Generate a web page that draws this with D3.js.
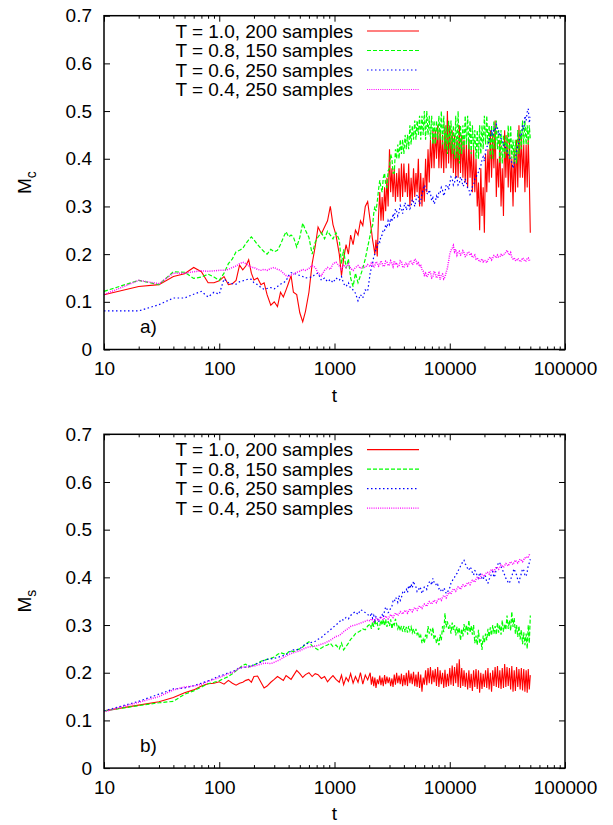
<!DOCTYPE html>
<html>
<head>
<meta charset="utf-8">
<script src="https://cdn.jsdelivr.net/npm/d3@7"></script>
<style>
  body { margin: 0; background: #fff; }
  text { font-family: "Liberation Sans", Arial, sans-serif; }
</style>
</head>
<body>
<svg id="drawing_region"></svg>
<script>
// time steps shared by all curves (denser where the runs get noisy)
var tSteps = [
  10,20,30,40,50,60,70,80,90,100,
  110,120,130,140,150,160,170,180,190,200,
  215,230,245,260,280,300,320,340,360,380,
  400,420,440,470,500,530,560,600,640,680,
  720,770,820,870,920,970,1030,1100,1150,1200,
  1260,1320,1380,1450,1520,1600,1680,1760,1850,1940,
  2040,2090,2140,2190,2240,2290,2350,2410,2470,2530,
  2590,2650,2720,2780,2850,2920,3000,3070,3150,3220,
  3300,3380,3460,3540,3630,3720,3810,3900,4000,4100,
  4200,4300,4400,4510,4620,4730,4850,4970,5090,5210,
  5340,5470,5600,5740,5880,6020,6170,6320,6480,6640,
  6800,6970,7140,7310,7490,7670,7860,8050,8250,8450,
  8660,8870,9090,9310,9540,9770,10000,10250,10500,10750,
  11000,11270,11550,11820,12100,12400,12700,13000,13300,13620,
  13950,14300,14650,15000,15350,15720,16100,16500,16900,17320,
  17750,18170,18600,19050,19500,19970,20450,20950,21450,21970,
  22500,23050,23600,24170,24750,25350,25950,26570,27200,27870,
  28550,29250,29950,30670,31400,32170,32950,33750,34550,35400,
  36250,37120,38000,38920,39850,40820,41800,42820,43850,44900,
  46000,47000,48000,49000,50000
];

// panel a) : M_c
var mcT10 = [
  0.115,0.132,0.136,0.153,0.159,0.172,0.163,0.140,0.140,0.144,
  0.153,0.136,0.138,0.145,0.177,0.167,0.175,0.188,0.160,0.146,
  0.150,0.136,0.140,0.115,0.093,0.100,0.090,0.120,0.110,0.125,
  0.140,0.155,0.120,0.115,0.077,0.058,0.080,0.120,0.180,0.216,
  0.257,0.243,0.257,0.270,0.300,0.262,0.240,0.200,0.155,0.190,
  0.220,0.200,0.240,0.220,0.250,0.240,0.270,0.260,0.300,0.310,
  0.270,0.250,0.230,0.215,0.200,0.230,0.195,0.280,0.330,0.270,
  0.320,0.270,0.340,0.290,0.360,0.300,0.420,0.330,0.380,0.320,
  0.380,0.310,0.370,0.320,0.380,0.310,0.390,0.320,0.390,0.330,
  0.370,0.320,0.390,0.300,0.360,0.310,0.380,0.320,0.370,0.330,
  0.400,0.300,0.370,0.300,0.360,0.310,0.400,0.330,0.420,0.350,
  0.440,0.380,0.460,0.380,0.460,0.400,0.470,0.380,0.460,0.380,
  0.450,0.370,0.470,0.380,0.500,0.390,0.470,0.380,0.460,0.370,
  0.450,0.360,0.440,0.360,0.470,0.370,0.450,0.360,0.440,0.350,
  0.430,0.340,0.440,0.360,0.420,0.330,0.420,0.330,0.400,0.300,
  0.350,0.250,0.380,0.280,0.340,0.245,0.410,0.330,0.420,0.350,
  0.460,0.360,0.450,0.380,0.480,0.320,0.400,0.340,0.440,0.300,
  0.380,0.280,0.460,0.360,0.450,0.340,0.440,0.330,0.400,0.300,
  0.420,0.330,0.440,0.340,0.470,0.360,0.450,0.360,0.430,0.330,
  0.430,0.340,0.440,0.360,0.245
];
var mcT08 = [
  0.122,0.145,0.136,0.163,0.162,0.149,0.152,0.158,0.152,0.145,
  0.160,0.180,0.190,0.205,0.208,0.212,0.222,0.230,0.236,0.230,
  0.220,0.212,0.205,0.200,0.210,0.205,0.208,0.220,0.235,0.247,
  0.236,0.240,0.236,0.215,0.235,0.265,0.250,0.235,0.200,0.225,
  0.236,0.245,0.232,0.248,0.240,0.232,0.245,0.230,0.180,0.210,
  0.170,0.190,0.150,0.132,0.160,0.140,0.155,0.170,0.190,0.215,
  0.240,0.255,0.260,0.285,0.300,0.290,0.310,0.335,0.355,0.340,
  0.330,0.360,0.370,0.345,0.340,0.375,0.380,0.410,0.400,0.370,
  0.370,0.420,0.400,0.430,0.400,0.440,0.410,0.440,0.410,0.450,
  0.420,0.450,0.420,0.470,0.430,0.470,0.440,0.480,0.440,0.480,
  0.450,0.490,0.440,0.490,0.450,0.500,0.440,0.500,0.450,0.490,
  0.440,0.490,0.430,0.480,0.430,0.480,0.440,0.490,0.440,0.500,
  0.430,0.490,0.420,0.470,0.410,0.480,0.420,0.480,0.410,0.470,
  0.400,0.490,0.400,0.500,0.390,0.470,0.410,0.470,0.420,0.490,
  0.430,0.490,0.420,0.480,0.410,0.470,0.420,0.460,0.400,0.460,
  0.400,0.470,0.410,0.470,0.420,0.490,0.430,0.490,0.430,0.470,
  0.400,0.470,0.400,0.480,0.420,0.480,0.420,0.460,0.390,0.460,
  0.390,0.450,0.400,0.450,0.410,0.470,0.400,0.470,0.400,0.440,
  0.390,0.440,0.390,0.460,0.410,0.460,0.420,0.480,0.430,0.480,
  0.430,0.470,0.430,0.470,0.440
];
var mcT06 = [
  0.081,0.081,0.094,0.108,0.108,0.116,0.122,0.110,0.120,0.116,
  0.148,0.140,0.138,0.137,0.142,0.144,0.146,0.148,0.147,0.140,
  0.136,0.130,0.126,0.128,0.130,0.127,0.132,0.137,0.140,0.144,
  0.155,0.161,0.160,0.158,0.155,0.153,0.150,0.151,0.152,0.158,
  0.160,0.145,0.150,0.142,0.147,0.140,0.150,0.145,0.153,0.138,
  0.132,0.140,0.128,0.125,0.118,0.102,0.115,0.108,0.125,0.122,
  0.160,0.172,0.180,0.195,0.200,0.212,0.215,0.228,0.225,0.238,
  0.240,0.252,0.250,0.262,0.255,0.270,0.262,0.275,0.268,0.285,
  0.275,0.295,0.290,0.280,0.288,0.302,0.296,0.285,0.299,0.308,
  0.292,0.300,0.306,0.295,0.300,0.315,0.310,0.300,0.313,0.325,
  0.320,0.305,0.310,0.328,0.334,0.345,0.340,0.328,0.325,0.335,
  0.327,0.312,0.318,0.305,0.310,0.322,0.316,0.330,0.328,0.340,
  0.334,0.322,0.330,0.345,0.345,0.335,0.348,0.362,0.358,0.345,
  0.350,0.365,0.360,0.345,0.348,0.362,0.356,0.342,0.345,0.358,
  0.350,0.338,0.336,0.325,0.330,0.342,0.345,0.358,0.360,0.368,
  0.372,0.380,0.385,0.398,0.404,0.395,0.415,0.425,0.428,0.440,
  0.445,0.460,0.448,0.468,0.458,0.472,0.465,0.450,0.455,0.442,
  0.440,0.428,0.430,0.420,0.418,0.408,0.405,0.398,0.392,0.380,
  0.390,0.402,0.415,0.428,0.435,0.450,0.448,0.470,0.462,0.490,
  0.480,0.498,0.505,0.475,0.488
];
var mcT04 = [
  0.115,0.145,0.138,0.160,0.160,0.163,0.165,0.164,0.165,0.166,
  0.166,0.168,0.172,0.175,0.180,0.183,0.180,0.176,0.172,0.172,
  0.168,0.166,0.168,0.166,0.170,0.172,0.168,0.166,0.160,0.155,
  0.152,0.156,0.158,0.162,0.164,0.168,0.166,0.170,0.176,0.172,
  0.160,0.155,0.166,0.172,0.168,0.180,0.183,0.175,0.168,0.178,
  0.172,0.180,0.170,0.166,0.172,0.176,0.170,0.174,0.172,0.178,
  0.174,0.182,0.180,0.172,0.176,0.184,0.182,0.175,0.178,0.186,
  0.181,0.174,0.176,0.185,0.183,0.176,0.178,0.186,0.180,0.174,
  0.186,0.178,0.182,0.174,0.176,0.186,0.184,0.174,0.172,0.180,
  0.182,0.175,0.178,0.186,0.185,0.178,0.180,0.190,0.188,0.180,
  0.182,0.174,0.178,0.168,0.165,0.156,0.160,0.152,0.156,0.164,
  0.162,0.150,0.152,0.164,0.160,0.150,0.154,0.160,0.146,0.156,
  0.158,0.148,0.152,0.162,0.170,0.185,0.200,0.208,0.212,0.218,
  0.205,0.210,0.198,0.204,0.206,0.198,0.200,0.207,0.203,0.195,
  0.196,0.204,0.204,0.198,0.200,0.193,0.195,0.198,0.190,0.192,
  0.188,0.184,0.186,0.190,0.184,0.187,0.186,0.182,0.188,0.192,
  0.194,0.188,0.192,0.197,0.196,0.192,0.198,0.194,0.194,0.199,
  0.196,0.200,0.200,0.204,0.208,0.202,0.198,0.203,0.194,0.190,
  0.192,0.187,0.186,0.191,0.188,0.184,0.186,0.192,0.190,0.185,
  0.186,0.191,0.192,0.186,0.188
];

// panel b) : M_s
var msT10 = [
  0.120,0.132,0.139,0.148,0.158,0.164,0.172,0.177,0.178,0.181,
  0.176,0.184,0.178,0.174,0.178,0.180,0.184,0.186,0.180,0.192,
  0.193,0.180,0.168,0.172,0.180,0.186,0.192,0.188,0.184,0.194,
  0.190,0.186,0.194,0.205,0.198,0.190,0.196,0.200,0.192,0.198,
  0.196,0.188,0.192,0.181,0.188,0.194,0.186,0.180,0.195,0.175,
  0.190,0.182,0.198,0.178,0.192,0.180,0.200,0.176,0.195,0.185,
  0.200,0.175,0.192,0.172,0.190,0.168,0.186,0.176,0.194,0.174,
  0.190,0.172,0.195,0.176,0.192,0.178,0.190,0.172,0.188,0.170,
  0.196,0.175,0.200,0.178,0.194,0.176,0.198,0.172,0.195,0.174,
  0.200,0.172,0.205,0.178,0.198,0.176,0.202,0.172,0.196,0.170,
  0.202,0.168,0.196,0.160,0.190,0.175,0.205,0.174,0.210,0.178,
  0.212,0.176,0.205,0.180,0.208,0.172,0.212,0.170,0.205,0.176,
  0.200,0.168,0.206,0.170,0.198,0.172,0.210,0.175,0.215,0.172,
  0.212,0.178,0.220,0.170,0.228,0.168,0.210,0.172,0.205,0.170,
  0.200,0.165,0.205,0.168,0.198,0.162,0.205,0.170,0.208,0.166,
  0.205,0.158,0.200,0.166,0.198,0.170,0.205,0.168,0.210,0.165,
  0.200,0.160,0.205,0.172,0.212,0.170,0.214,0.168,0.205,0.166,
  0.210,0.168,0.218,0.170,0.212,0.172,0.210,0.165,0.214,0.160,
  0.205,0.162,0.212,0.170,0.208,0.165,0.210,0.163,0.208,0.160,
  0.205,0.158,0.208,0.165,0.195
];
var msT08 = [
  0.120,0.131,0.137,0.140,0.155,0.162,0.170,0.177,0.180,0.183,
  0.188,0.192,0.198,0.204,0.210,0.216,0.218,0.212,0.214,0.216,
  0.220,0.224,0.226,0.228,0.230,0.233,0.238,0.242,0.240,0.238,
  0.244,0.246,0.244,0.248,0.250,0.254,0.260,0.265,0.256,0.252,
  0.248,0.252,0.256,0.258,0.262,0.255,0.258,0.250,0.262,0.248,
  0.255,0.262,0.270,0.275,0.282,0.285,0.288,0.292,0.290,0.298,
  0.302,0.292,0.306,0.296,0.312,0.300,0.304,0.290,0.299,0.310,
  0.300,0.312,0.298,0.312,0.296,0.308,0.298,0.312,0.292,0.305,
  0.300,0.313,0.302,0.292,0.300,0.288,0.298,0.286,0.298,0.285,
  0.296,0.284,0.298,0.288,0.296,0.284,0.292,0.282,0.292,0.280,
  0.285,0.272,0.278,0.262,0.270,0.262,0.280,0.272,0.298,0.282,
  0.292,0.278,0.295,0.270,0.278,0.262,0.270,0.258,0.280,0.268,
  0.298,0.285,0.325,0.295,0.308,0.292,0.300,0.282,0.305,0.290,
  0.300,0.278,0.296,0.282,0.295,0.268,0.292,0.276,0.302,0.285,
  0.300,0.280,0.310,0.284,0.298,0.280,0.300,0.262,0.278,0.258,
  0.290,0.262,0.270,0.248,0.278,0.262,0.282,0.268,0.292,0.275,
  0.295,0.278,0.300,0.282,0.298,0.280,0.305,0.284,0.300,0.280,
  0.310,0.286,0.302,0.290,0.320,0.292,0.310,0.288,0.328,0.296,
  0.315,0.282,0.300,0.275,0.298,0.270,0.290,0.260,0.285,0.258,
  0.282,0.250,0.300,0.262,0.320
];
var msT06 = [
  0.120,0.140,0.155,0.166,0.168,0.173,0.178,0.183,0.188,0.193,
  0.196,0.200,0.202,0.206,0.211,0.210,0.212,0.214,0.215,0.216,
  0.220,0.222,0.226,0.228,0.229,0.230,0.232,0.234,0.236,0.238,
  0.242,0.246,0.248,0.248,0.250,0.256,0.260,0.262,0.264,0.266,
  0.270,0.274,0.280,0.285,0.290,0.295,0.300,0.306,0.312,0.310,
  0.316,0.313,0.320,0.325,0.328,0.322,0.332,0.330,0.326,0.322,
  0.318,0.326,0.314,0.320,0.310,0.318,0.316,0.306,0.312,0.320,
  0.322,0.316,0.330,0.338,0.334,0.326,0.328,0.336,0.340,0.350,
  0.348,0.358,0.355,0.348,0.362,0.352,0.358,0.368,0.365,0.372,
  0.375,0.368,0.383,0.376,0.386,0.378,0.392,0.384,0.380,0.370,
  0.372,0.380,0.376,0.366,0.372,0.380,0.380,0.375,0.385,0.390,
  0.392,0.384,0.398,0.390,0.390,0.382,0.385,0.376,0.378,0.370,
  0.370,0.378,0.374,0.366,0.368,0.374,0.378,0.388,0.392,0.398,
  0.400,0.406,0.408,0.414,0.418,0.424,0.428,0.434,0.436,0.428,
  0.425,0.418,0.415,0.422,0.418,0.410,0.405,0.414,0.412,0.402,
  0.398,0.410,0.405,0.398,0.395,0.404,0.402,0.390,0.388,0.396,
  0.400,0.408,0.412,0.400,0.405,0.418,0.425,0.432,0.430,0.422,
  0.418,0.410,0.405,0.398,0.396,0.388,0.388,0.396,0.402,0.412,
  0.418,0.410,0.405,0.395,0.390,0.400,0.408,0.418,0.415,0.405,
  0.402,0.412,0.425,0.430,0.438
];
var msT04 = [
  0.118,0.138,0.150,0.164,0.170,0.172,0.176,0.182,0.186,0.190,
  0.194,0.198,0.200,0.205,0.210,0.212,0.212,0.212,0.213,0.214,
  0.216,0.218,0.220,0.220,0.219,0.222,0.225,0.228,0.232,0.235,
  0.238,0.240,0.242,0.244,0.246,0.249,0.252,0.254,0.255,0.256,
  0.257,0.260,0.262,0.265,0.268,0.272,0.276,0.278,0.282,0.286,
  0.290,0.293,0.297,0.299,0.300,0.302,0.304,0.306,0.308,0.310,
  0.309,0.313,0.311,0.307,0.310,0.314,0.312,0.309,0.313,0.317,
  0.314,0.311,0.315,0.319,0.316,0.313,0.318,0.322,0.319,0.316,
  0.321,0.325,0.323,0.320,0.324,0.328,0.326,0.323,0.327,0.331,
  0.328,0.325,0.330,0.334,0.331,0.328,0.333,0.337,0.334,0.331,
  0.336,0.340,0.338,0.335,0.340,0.344,0.342,0.339,0.345,0.349,
  0.347,0.344,0.348,0.352,0.350,0.347,0.352,0.356,0.355,0.352,
  0.358,0.362,0.360,0.357,0.363,0.367,0.368,0.365,0.372,0.376,
  0.374,0.371,0.376,0.380,0.378,0.375,0.380,0.384,0.383,0.380,
  0.385,0.389,0.388,0.385,0.390,0.394,0.393,0.390,0.396,0.400,
  0.399,0.396,0.402,0.406,0.405,0.402,0.407,0.411,0.410,0.407,
  0.413,0.417,0.415,0.412,0.418,0.422,0.420,0.417,0.422,0.426,
  0.424,0.421,0.425,0.429,0.427,0.424,0.429,0.433,0.430,0.427,
  0.432,0.436,0.433,0.430,0.434,0.438,0.436,0.433,0.437,0.441,
  0.440,0.444,0.443,0.447,0.450
];

var seriesNames = ['T = 1.0, 200 samples', 'T = 0.8, 150 samples',
                   'T = 0.6, 250 samples', 'T = 0.4, 250 samples'];
var xTickValues = [10, 100, 1000, 10000, 100000];
var yTickValues = [0, 0.1, 0.2, 0.3, 0.4, 0.5, 0.6, 0.7];

// line look, one per series (gnuplot default colours)
var colors = ['#ff0000', '#00ff00', '#0000ff', '#ff00ff'];
var dashes = [null, '4,2', '1.5,2.5', '1,1.2'];
var curveWidths = [1.1, 1.2, 1.2, 1.5];

var width = 613;
var height = 825;
var left = 104, right = 565;
var panelHeight = 333.8;
var fontSize = 19;

var svg = d3.select('#drawing_region')
    .attr('width', width)
    .attr('height', height);

var panels = [
  {top: 15.7, data: [mcT10, mcT08, mcT06, mcT04], tag: 'a)', sub: 'c'},
  {top: 434.3, data: [msT10, msT08, msT06, msT04], tag: 'b)', sub: 's'}
];

const xscale = d3.scaleLog()
    .domain([10, 100000])
    .range([left, right]);

// minor ticks from the scale itself (2..9 per decade)
const minorTicks = xscale.ticks().filter(t => xTickValues.indexOf(t) < 0);

panels.forEach(function(p) {
  const bottom = p.top + panelHeight;
  const yscale = d3.scaleLinear()
      .domain([0, 0.7])
      .range([bottom, p.top]);

  const g = svg.append('g');

  // axes (ticks pointing into the plot)
  const fmtX = d3.format('d');
  g.append('g')
      .attr('transform', `translate(0, ${bottom})`)
      .call(d3.axisBottom(xscale).tickValues(xTickValues).tickFormat(fmtX)
            .tickSize(-6).tickPadding(12.5));
  g.append('g')
      .attr('transform', `translate(0, ${bottom})`)
      .call(d3.axisBottom(xscale).tickValues(minorTicks).tickFormat('').tickSize(-3));
  g.append('g')
      .attr('transform', `translate(0, ${p.top})`)
      .call(d3.axisTop(xscale).tickValues(xTickValues).tickFormat('').tickSize(-6));
  g.append('g')
      .attr('transform', `translate(0, ${p.top})`)
      .call(d3.axisTop(xscale).tickValues(minorTicks).tickFormat('').tickSize(-3));
  g.append('g')
      .attr('transform', `translate(${left}, 0)`)
      .call(d3.axisLeft(yscale).tickValues(yTickValues)
            .tickFormat(d => d === 0 ? '0' : d3.format('.1f')(d))
            .tickSize(-6).tickPadding(12));
  g.append('g')
      .attr('transform', `translate(${right}, 0)`)
      .call(d3.axisRight(yscale).tickValues(yTickValues).tickFormat('').tickSize(-6));

  g.selectAll('.domain').remove();
  g.selectAll('.tick line').attr('stroke', '#000').attr('stroke-width', 1);
  g.selectAll('.tick text')
      .attr('fill', '#000')
      .style('font-size', fontSize + 'px')
      .style('font-family', '"Liberation Sans", Arial, sans-serif');

  // curves
  const line = d3.line()
      .x(d => xscale(d[0]))
      .y(d => yscale(d[1]));
  p.data.forEach(function(vals, i) {
    g.append('path')
        .attr('d', line(d3.zip(tSteps, vals)))
        .attr('fill', 'none')
        .attr('stroke', colors[i])
        .attr('stroke-width', curveWidths[i])
        .attr('stroke-dasharray', dashes[i]);
  });

  // legend
  seriesNames.forEach(function(name, i) {
    const ly = p.top + 15.3 + i * 19.5;
    g.append('text')
        .attr('x', 353)
        .attr('y', ly + 6.8)
        .attr('text-anchor', 'end')
        .style('font-size', fontSize + 'px')
        .text(name);
    g.append('line')
        .attr('x1', 367).attr('x2', 419)
        .attr('y1', ly).attr('y2', ly)
        .attr('stroke', colors[i])
        .attr('stroke-width', 1.1)
        .attr('stroke-dasharray', dashes[i]);
  });

  // frame
  g.append('rect')
      .attr('x', left).attr('y', p.top)
      .attr('width', right - left).attr('height', panelHeight)
      .attr('fill', 'none')
      .attr('stroke', '#000')
      .attr('stroke-width', 1.5);

  // panel tag
  g.append('text')
      .attr('x', 140)
      .attr('y', bottom - 16.5)
      .style('font-size', fontSize + 'px')
      .text(p.tag);

  // axis titles
  g.append('text')
      .attr('x', (left + right) / 2)
      .attr('y', bottom + 52)
      .attr('text-anchor', 'middle')
      .style('font-size', fontSize + 'px')
      .text('t');

  const ylab = g.append('text')
      .attr('transform', `translate(31, ${p.top + panelHeight / 2}) rotate(-90)`)
      .attr('text-anchor', 'middle')
      .style('font-size', fontSize + 'px');
  ylab.append('tspan').text('M');
  ylab.append('tspan').attr('dy', 5).style('font-size', '14px').text(p.sub);
});
</script>
</body>
</html>
